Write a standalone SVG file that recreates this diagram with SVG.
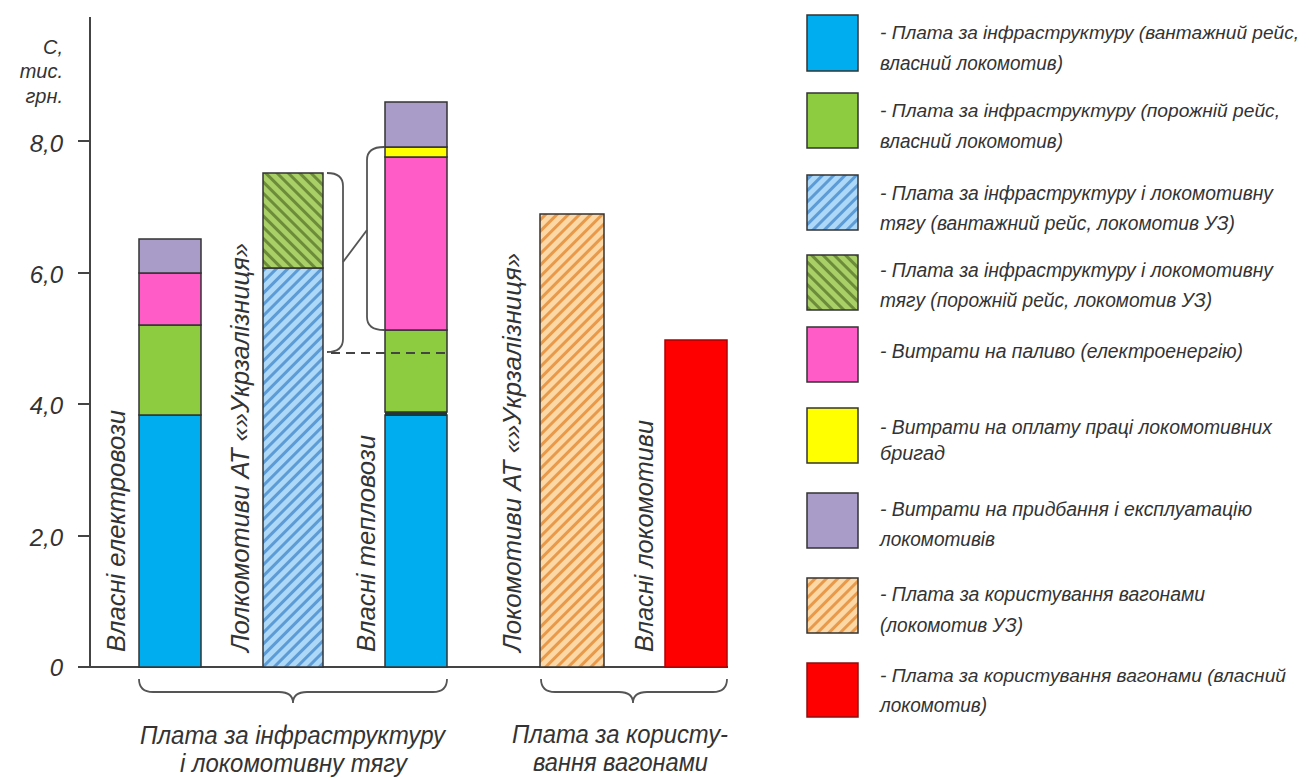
<svg xmlns="http://www.w3.org/2000/svg" width="1309" height="778" viewBox="0 0 1309 778">
<style>
text{font-family:"Liberation Sans","Arial",sans-serif;font-style:italic;fill:#333}
.ax{fill:none;stroke:#444;stroke-width:2}
.seg{stroke:#333;stroke-width:1.5}
.br{fill:none;stroke:#555;stroke-width:1.8}
.lg{font-size:20px}
.lgs{font-size:19px}
.vl{font-size:25px}
.bl{font-size:25px}
.yl{font-size:24px;text-anchor:end}
.un{font-size:20px;text-anchor:end}
</style>
<defs>
<pattern id="hBlue" patternUnits="userSpaceOnUse" width="8" height="8" patternTransform="rotate(45)">
<rect width="8" height="8" fill="#AED8F7"/><rect width="3" height="8" fill="#5C9BD5"/>
</pattern>
<pattern id="hGreen" patternUnits="userSpaceOnUse" width="8" height="8" patternTransform="rotate(-45)">
<rect width="8" height="8" fill="#A8D066"/><rect width="3" height="8" fill="#6C8C3A"/>
</pattern>
<pattern id="hOrange" patternUnits="userSpaceOnUse" width="8" height="8" patternTransform="rotate(45)">
<rect width="8" height="8" fill="#FCD8A6"/><rect width="3" height="8" fill="#E89A4A"/>
</pattern>
</defs>

<g id="axes">
<line class="ax" x1="90" y1="17" x2="90" y2="667"/>
<line class="ax" x1="78" y1="667" x2="728" y2="667"/>
<line class="ax" x1="78" y1="141" x2="90" y2="141"/>
<line class="ax" x1="78" y1="273" x2="90" y2="273"/>
<line class="ax" x1="78" y1="404" x2="90" y2="404"/>
<line class="ax" x1="78" y1="536" x2="90" y2="536"/>
<text class="un" x="63" y="54">С,</text>
<text class="un" x="63" y="78">тис.</text>
<text class="un" x="63" y="103">грн.</text>
<text class="yl" x="63" y="152">8,0</text>
<text class="yl" x="63" y="283">6,0</text>
<text class="yl" x="63" y="414">4,0</text>
<text class="yl" x="63" y="546">2,0</text>
<text class="yl" x="63" y="676">0</text>
</g>

<g id="bar1">
<rect class="seg" x="139" y="415" width="62" height="252" fill="#00AEEF"/>
<rect class="seg" x="139" y="325" width="62" height="90" fill="#8DCB41"/>
<rect class="seg" x="139" y="273" width="62" height="52" fill="#FF5CC8"/>
<rect class="seg" x="139" y="239" width="62" height="34" fill="#A99CC9"/>
</g>

<g id="bar2">
<rect class="seg" x="263" y="268" width="60" height="399" fill="url(#hBlue)"/>
<rect class="seg" x="263" y="173" width="60" height="95" fill="url(#hGreen)"/>
</g>

<g id="bar3">
<rect class="seg" x="385" y="415" width="62" height="252" fill="#00AEEF"/>
<rect x="385" y="412" width="62" height="4" fill="#1a3a3a"/>
<rect class="seg" x="385" y="330" width="62" height="82" fill="#8DCB41"/>
<rect class="seg" x="385" y="157" width="62" height="173" fill="#FF5CC8"/>
<rect class="seg" x="385" y="147" width="62" height="10" fill="#FFFF00"/>
<rect class="seg" x="385" y="102" width="62" height="45" fill="#A99CC9"/>
</g>

<g id="bar4">
<rect class="seg" x="540" y="214" width="64" height="453" fill="url(#hOrange)" stroke="#6b4020"/>
</g>

<g id="bar5">
<rect x="665" y="340" width="62" height="327" fill="#FF0000" stroke="#B00000" stroke-width="1.5"/>
</g>

<g id="connectors">
<path class="br" d="M327,173 Q343,173 343,186 L343,339 Q343,352 327,352"/>
<line class="br" x1="343" y1="262" x2="367" y2="230"/>
<path class="br" d="M384,147 Q367,147 367,160 L367,317 Q367,330 384,330"/>
<line x1="331" y1="353" x2="446" y2="353" stroke="#444" stroke-width="2" stroke-dasharray="9,6"/>
<path class="br" d="M139,679 Q139,692 153,692 L279,692 Q293,692 293,703 Q293,692 307,692 L433,692 Q447,692 447,679"/>
<path class="br" d="M541,679 Q541,692 555,692 L619,692 Q633,692 633,703 Q633,692 647,692 L713,692 Q727,692 727,679"/>
</g>

<g id="vlabels">
<text class="vl" transform="translate(125,652) rotate(-90)" textLength="242" lengthAdjust="spacingAndGlyphs">Власні електровози</text>
<text class="vl" transform="translate(249,652) rotate(-90)" textLength="409" lengthAdjust="spacingAndGlyphs">Лолкомотиви АТ «»Укрзалізниця»</text>
<text class="vl" transform="translate(375,652) rotate(-90)" textLength="217" lengthAdjust="spacingAndGlyphs">Власні тепловози</text>
<text class="vl" transform="translate(521,652) rotate(-90)" textLength="399" lengthAdjust="spacingAndGlyphs">Локомотиви АТ «»Укрзалізниця»</text>
<text class="vl" transform="translate(653,652) rotate(-90)" textLength="232" lengthAdjust="spacingAndGlyphs">Власні локомотиви</text>
</g>

<g id="blabels">
<text class="bl" x="140" y="744" textLength="305" lengthAdjust="spacingAndGlyphs">Плата за інфраструктуру</text>
<text class="bl" x="180" y="772" textLength="227" lengthAdjust="spacingAndGlyphs">і локомотивну тягу</text>
<text class="bl" x="512" y="743" textLength="216" lengthAdjust="spacingAndGlyphs">Плата за користу-</text>
<text class="bl" x="533" y="771" textLength="175" lengthAdjust="spacingAndGlyphs">вання вагонами</text>
</g>

<g id="legend">
<rect class="seg" x="807" y="15" width="51" height="56" fill="#00AEEF"/>
<rect class="seg" x="807" y="93" width="51" height="55" fill="#8DCB41"/>
<rect class="seg" x="807" y="175" width="51" height="55" fill="url(#hBlue)"/>
<rect class="seg" x="807" y="255" width="51" height="55" fill="url(#hGreen)"/>
<rect class="seg" x="807" y="327" width="51" height="55" fill="#FF5CC8"/>
<rect class="seg" x="807" y="408" width="51" height="55" fill="#FFFF00"/>
<rect class="seg" x="807" y="493" width="51" height="55" fill="#A99CC9"/>
<rect class="seg" x="807" y="578" width="51" height="55" fill="url(#hOrange)"/>
<rect x="807" y="663" width="51" height="54" fill="#FF0000" stroke="#8a1010" stroke-width="1.5"/>
<text class="lgs" x="880" y="39" textLength="419" lengthAdjust="spacingAndGlyphs">- Плата за інфраструктуру (вантажний рейс,</text>
<text class="lg" x="880" y="70" textLength="183" lengthAdjust="spacingAndGlyphs">власний локомотив)</text>
<text class="lgs" x="880" y="117" textLength="400" lengthAdjust="spacingAndGlyphs">- Плата за інфраструктуру (порожній рейс,</text>
<text class="lg" x="880" y="148" textLength="183" lengthAdjust="spacingAndGlyphs">власний локомотив)</text>
<text class="lg" x="880" y="200" textLength="393" lengthAdjust="spacingAndGlyphs">- Плата за інфраструктуру і локомотивну</text>
<text class="lg" x="880" y="230" textLength="355" lengthAdjust="spacingAndGlyphs">тягу (вантажний рейс, локомотив УЗ)</text>
<text class="lg" x="880" y="277" textLength="393" lengthAdjust="spacingAndGlyphs">- Плата за інфраструктуру і локомотивну</text>
<text class="lg" x="880" y="307" textLength="332" lengthAdjust="spacingAndGlyphs">тягу (порожній рейс, локомотив УЗ)</text>
<text class="lg" x="880" y="358" textLength="363" lengthAdjust="spacingAndGlyphs">- Витрати на паливо (електроенергію)</text>
<text class="lg" x="880" y="434" textLength="392" lengthAdjust="spacingAndGlyphs">- Витрати на оплату праці локомотивних</text>
<text class="lg" x="880" y="460" textLength="65" lengthAdjust="spacingAndGlyphs">бригад</text>
<text class="lg" x="880" y="516" textLength="372" lengthAdjust="spacingAndGlyphs">- Витрати на придбання і експлуатацію</text>
<text class="lg" x="880" y="546" textLength="115" lengthAdjust="spacingAndGlyphs">локомотивів</text>
<text class="lg" x="880" y="601" textLength="325" lengthAdjust="spacingAndGlyphs">- Плата за користування вагонами</text>
<text class="lg" x="880" y="632" textLength="143" lengthAdjust="spacingAndGlyphs">(локомотив УЗ)</text>
<text class="lgs" x="880" y="682" textLength="406" lengthAdjust="spacingAndGlyphs">- Плата за користування вагонами (власний</text>
<text class="lg" x="880" y="712" textLength="107" lengthAdjust="spacingAndGlyphs">локомотив)</text>
</g>
</svg>
